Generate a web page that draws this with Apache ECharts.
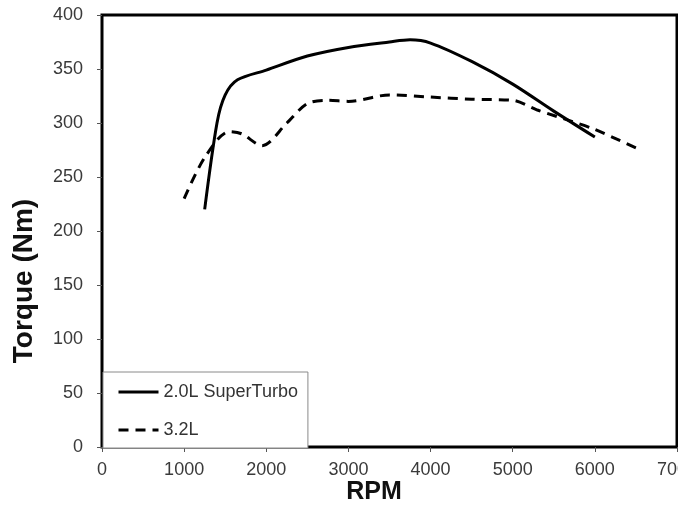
<!DOCTYPE html>
<html>
<head>
<meta charset="utf-8">
<script src="https://cdn.jsdelivr.net/npm/echarts@6/dist/echarts.min.js"></script>
<style>
  html, body { margin: 0; padding: 0; background: #fff; }
  #chart { width: 678px; height: 505px; }
</style>
</head>
<body>
<div id="chart"></div>
<script>
// Engine speed (RPM) and torque (Nm) for each engine
const rpmTurbo    = [1250, 1400, 1500, 1650, 2000, 2500, 3000, 3500, 3750, 4000, 4500, 5000, 5500, 6000];
const torqueTurbo = [ 220,  300,  326,  340,  349,  362,  370,  375,  377,  374,  357,  336,  311,  287];

const rpmV6    = [1000, 1250, 1550, 1700, 1950, 2250, 2500, 2750, 3000, 3500, 4000, 4500, 5000, 5300, 5700, 6000, 6500];
const torqueV6 = [ 230,  268,  292,  290,  279,  300,  318,  321,  320,  326,  324,  322,  321,  312,  302,  294,  277];

const seriesNames = ['2.0L SuperTurbo', '3.2L'];
const xTitle = 'RPM';
const yTitle = 'Torque (Nm)';

const pairs = (xs, ys) => xs.map((x, i) => [x, ys[i]]);

const labelFont = { color: '#3a3a3a', fontSize: 18, fontFamily: 'Liberation Sans, Arial, sans-serif' };
const plain = v => String(v);

const chart = echarts.init(document.getElementById('chart'), null, { renderer: 'canvas' });
chart.setOption({
  backgroundColor: '#fff',
  animation: false,
  grid: {
    left: 102, top: 15, right: 1, bottom: 58,
    outerBoundsMode: 'none', containLabel: false,
    show: true, borderColor: '#000', borderWidth: 3, backgroundColor: 'transparent'
  },
  xAxis: {
    type: 'value', min: 0, max: 7000, interval: 1000,
    axisLine: { show: false },
    axisTick: { show: true, length: 5, lineStyle: { color: '#555', width: 1 } },
    axisLabel: Object.assign({ margin: 14, formatter: plain, hideOverlap: false, showMaxLabel: true }, labelFont),
    splitLine: { show: false }
  },
  yAxis: {
    type: 'value', min: 0, max: 400, interval: 50,
    axisLine: { show: false },
    axisTick: { show: true, length: 5, lineStyle: { color: '#555', width: 1 } },
    axisLabel: Object.assign({ margin: 19, formatter: plain }, labelFont),
    splitLine: { show: false }
  },
  legend: {
    orient: 'vertical',
    left: 103, top: 372,
    z: 10,
    backgroundColor: '#fff',
    borderColor: '#8a8a8a', borderWidth: 1, borderRadius: 0,
    padding: [10, 10, 8, 14],
    itemWidth: 40, itemHeight: 20, itemGap: 18,
    // legend keys show only the line stroke, no marker
    itemStyle: { opacity: 0, color: 'transparent', borderWidth: 0 },
    lineStyle: { width: 3 },
    textStyle: Object.assign({ lineHeight: 20 }, labelFont, { color: '#333' }),
    data: seriesNames
  },
  graphic: [
    {
      type: 'text', x: 24, y: 281, rotation: Math.PI / 2,
      style: {
        text: yTitle, fill: '#111', font: 'bold 28px Liberation Sans, Arial, sans-serif',
        align: 'center', verticalAlign: 'middle', textAlign: 'center', textVerticalAlign: 'middle'
      }
    },
    {
      type: 'text', x: 374, y: 492,
      style: {
        text: xTitle, fill: '#111', font: 'bold 25px Liberation Sans, Arial, sans-serif',
        align: 'center', verticalAlign: 'middle', textAlign: 'center', textVerticalAlign: 'middle'
      }
    }
  ],
  series: [
    {
      name: seriesNames[0], type: 'line', smooth: 0.3,
      symbol: 'none', showSymbol: false,
      lineStyle: { color: '#000', width: 3, type: 'solid' },
      itemStyle: { color: '#000' },
      data: pairs(rpmTurbo, torqueTurbo)
    },
    {
      name: seriesNames[1], type: 'line', smooth: 0.3,
      symbol: 'none', showSymbol: false,
      lineStyle: { color: '#000', width: 3, type: [10, 7] },
      itemStyle: { color: '#000' },
      data: pairs(rpmV6, torqueV6)
    }
  ]
});
</script>
</body>
</html>
